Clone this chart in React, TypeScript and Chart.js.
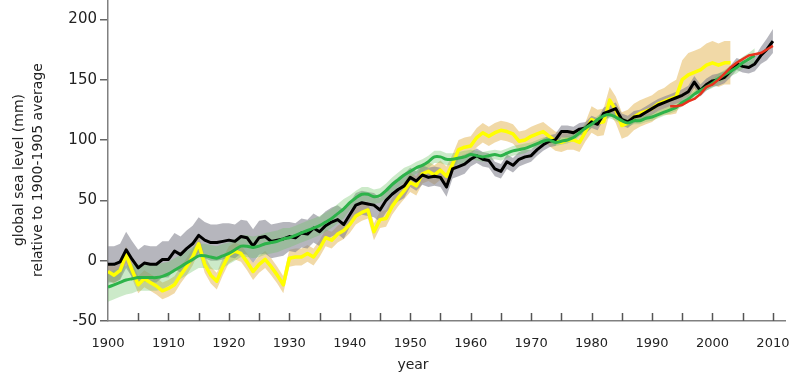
import React, { useEffect, useRef } from "react";
import { Chart, registerables } from "chart.js";

Chart.register(...registerables);

// ---- data (mm, relative to 1900-1905 average) ----
const BLACK_START = 1900;
const black = [
  -3, -3, -1, 9, 1, -6, -2, -3, -3, 1,
  1, 8, 5, 10, 14, 21, 17, 15, 15, 16,
  17, 16, 20, 19, 12, 19, 20, 16, 17, 18,
  20, 19, 23, 22, 27, 24, 29, 32, 34, 30,
  38, 46, 48, 47, 46, 42, 50, 55, 59, 62,
  69, 66, 71, 69, 70, 69, 61, 76, 78, 80,
  84, 87, 84, 83, 76, 74, 82, 79, 84, 86,
  87, 92, 96, 99, 100, 107, 107, 106, 109, 110,
  115, 113, 122, 124, 126, 117, 115, 119, 120, 123,
  126, 129, 131, 133, 135, 137, 140, 148, 141, 146,
  149, 150, 152, 157, 163, 161, 160, 163, 170, 175, 182,
];
const blackErr = [
  15, 15, 15, 15, 15, 15, 15, 15, 15, 15,
  15, 15, 15, 15, 15, 15, 15, 15, 15, 15,
  14, 14, 14, 14, 14, 14, 14, 14, 14, 14,
  12, 12, 12, 12, 12, 12, 12, 12, 12, 12,
  10, 10, 10, 10, 10, 10, 10, 10, 10, 10,
  8, 8, 8, 8, 8, 8, 8, 8, 8, 8,
  6, 6, 6, 6, 6, 6, 6, 6, 6, 6,
  5, 5, 5, 5, 5, 5, 5, 5, 5, 5,
  5, 5, 5, 5, 5, 5, 5, 5, 5, 5,
  5, 5, 5, 5, 5, 5, 5, 5, 5, 5,
  5, 5, 5, 5, 5, 5, 5, 6, 7, 9, 10,
];

const YELLOW_START = 1900;
const yellow = [
  -9, -12, -8, 5, -8, -20, -15, -18, -21, -25,
  -23, -20, -12, -5, 3, 14, -3, -12, -17, -5,
  5, 8, 6, -1, -9, -3, 1, -5, -12, -20,
  2, 3, 3, 6, 3, 10, 19, 17, 22, 25,
  30, 37, 40, 42, 24, 34, 35, 45, 52, 58,
  65, 62, 72, 74, 71, 75, 70, 80, 92, 94,
  95, 102, 106, 103, 106, 108, 107, 105, 99, 100,
  103, 105, 107, 103, 99, 98, 100, 100, 98, 107,
  117, 114, 115, 133, 125, 112, 114, 119, 122, 124,
  126, 130, 132, 134, 136, 150, 154, 156, 158, 162,
  164, 162, 164, 164,
];
const yellowErr = [
  7, 7, 7, 7, 7, 7, 7, 7, 7, 7,
  7, 7, 7, 7, 7, 7, 7, 7, 7, 7,
  7, 7, 7, 7, 7, 7, 7, 7, 7, 7,
  7, 7, 7, 7, 7, 7, 7, 7, 7, 7,
  7, 7, 7, 7, 7, 7, 7, 7, 7, 7,
  8, 8, 8, 8, 8, 8, 8, 8, 8, 8,
  8, 8, 8, 8, 8, 8, 8, 8, 8, 8,
  8, 8, 8, 8, 8, 8, 8, 8, 8, 8,
  11, 11, 11, 11, 11, 11, 11, 11, 11, 11,
  11, 11, 11, 13, 14, 16, 18, 18, 18, 18,
  18, 18, 18, 18,
];

const GREEN_START = 1900;
const green = [
  -22, -20, -18, -16, -15, -14, -14, -14, -14, -13,
  -11, -8, -5, -2, 1, 4, 4, 3, 2, 4,
  6, 9, 12, 12, 11, 12, 14, 15, 16, 18,
  19, 21, 23, 25, 27, 29, 32, 35, 39, 43,
  48, 52, 55, 55, 53, 54, 58, 63, 67, 71,
  74, 77, 79, 82, 86, 86, 84, 84, 85, 86,
  88, 87, 86, 87, 88, 87, 89, 91, 92, 93,
  95, 97, 99, 100, 98, 99, 100, 102, 106, 110,
  113, 117, 120, 121, 119, 116, 114, 116, 116, 118,
  119, 121, 123, 125, 127, 131, 134, 138, 141, 144,
  147, 151, 154, 157, 160, 164, 167, 170,
];
const greenErr = [
  12, 12, 12, 12, 12, 11, 11, 11, 11, 11,
  10, 10, 10, 10, 10, 10, 10, 10, 10, 10,
  9, 9, 9, 9, 9, 9, 9, 9, 9, 9,
  8, 8, 8, 8, 8, 8, 8, 8, 8, 8,
  6, 6, 6, 6, 6, 6, 6, 6, 6, 6,
  5, 5, 5, 5, 5, 5, 5, 5, 5, 5,
  4, 4, 4, 4, 4, 4, 4, 4, 4, 4,
  3, 3, 3, 3, 3, 3, 3, 3, 3, 3,
  3, 3, 3, 3, 3, 3, 3, 3, 3, 3,
  3, 3, 3, 3, 3, 3, 3, 3, 3, 3,
  4, 4, 4, 4, 5, 5, 5, 6,
];

const RED_START = 1993;
const red = [128, 128, 129, 132, 134, 138, 144, 146, 150, 155, 160, 164, 167, 170, 171, 172, 175, 178];

const yTitleLines = ["global sea level (mm)", "relative to 1900-1905 average"];
const xTitle = "year";

const FONT = '"DejaVu Sans", Verdana, sans-serif';

const toPoints = (start: number, vals: number[], err?: number[], sign = 0) =>
  vals.map((v, i) => ({ x: start + i, y: err ? v + sign * err[i] : v }));

const extrasPlugin = {
  id: "extras",
  afterDraw(chart: any) {
    const { ctx, scales } = chart;
    const xs = scales.x;
    const ys = scales.y;
    ctx.save();
    // inward ticks on x axis every 5 years
    ctx.strokeStyle = "#555";
    ctx.lineWidth = 1.5;
    const yBase = ys.getPixelForValue(ys.min);
    for (let v = 1905; v <= 2010; v += 5) {
      const px = Math.round(xs.getPixelForValue(v)) + 0.5;
      ctx.beginPath();
      ctx.moveTo(px, yBase);
      ctx.lineTo(px, yBase - 8);
      ctx.stroke();
    }
    // axis titles
    ctx.fillStyle = "#222";
    ctx.font = "14px " + FONT;
    ctx.textAlign = "center";
    ctx.textBaseline = "middle";
    ctx.fillText(xTitle, 413, 365);
    ctx.translate(19, 170);
    ctx.rotate(-Math.PI / 2);
    ctx.fillText(yTitleLines[0], 0, 0);
    ctx.fillText(yTitleLines[1], 0, 19);
    ctx.restore();
  },
};

export default function App() {
  const ref = useRef<HTMLCanvasElement | null>(null);
  useEffect(() => {
    if (!ref.current) return;
    const line = (label: string, data: any, color: string, width: number, tension = 0) => ({
      label,
      data,
      borderColor: color,
      borderWidth: width,
      pointRadius: 0,
      tension,
      fill: false,
      borderJoinStyle: "round" as const,
    });
    const bandUpper = (label: string, data: any, color: string) => ({
      label,
      data,
      borderWidth: 0,
      borderColor: "rgba(0,0,0,0)",
      backgroundColor: color,
      pointRadius: 0,
      fill: "+1",
    });
    const bandLower = (label: string, data: any) => ({
      label,
      data,
      borderWidth: 0,
      borderColor: "rgba(0,0,0,0)",
      pointRadius: 0,
      fill: false,
    });
    const chart = new Chart(ref.current, {
      type: "line",
      data: {
        datasets: [
          line("satellite", toPoints(RED_START, red), "#e8321e", 2.5),
          line("green", toPoints(GREEN_START, green), "#2db34a", 3, 0.3),
          line("black", toPoints(BLACK_START, black), "#000000", 3),
          line("yellow", toPoints(YELLOW_START, yellow), "#ffff00", 3.5),
          bandUpper("green hi", toPoints(GREEN_START, green, greenErr, 1), "rgba(110,195,100,0.35)"),
          bandLower("green lo", toPoints(GREEN_START, green, greenErr, -1)),
          bandUpper("black hi", toPoints(BLACK_START, black, blackErr, 1), "rgba(130,130,142,0.58)"),
          bandLower("black lo", toPoints(BLACK_START, black, blackErr, -1)),
          bandUpper("yellow hi", toPoints(YELLOW_START, yellow, yellowErr, 1), "rgba(228,180,80,0.5)"),
          bandLower("yellow lo", toPoints(YELLOW_START, yellow, yellowErr, -1)),
        ] as any,
      },
      options: {
        animation: false,
        responsive: true,
        maintainAspectRatio: false,
        layout: { padding: { left: 0, right: 15, top: 0, bottom: 0 } },
        plugins: { legend: { display: false }, tooltip: { enabled: false } },
        scales: {
          x: {
            type: "linear",
            min: 1900,
            max: 2012,
            afterFit: (s: any) => {
              s.height = 64;
              s.paddingLeft = 0;
              s.paddingRight = 0;
            },
            ticks: {
              stepSize: 10,
              includeBounds: false,
              autoSkip: false,
              maxRotation: 0,
              padding: 15,
              color: "#222",
              font: { family: FONT, size: 13 },
              callback: (v: any) => String(v),
            },
            grid: { display: false, drawTicks: false },
            border: { display: true, color: "#808080", width: 1.5 },
          },
          y: {
            type: "linear",
            min: -50,
            max: 216,
            afterFit: (s: any) => {
              s.width = 108;
              s.paddingTop = 0;
              s.paddingBottom = 0;
            },
            ticks: {
              stepSize: 50,
              includeBounds: false,
              padding: 3,
              color: "#222",
              font: { family: FONT, size: 15 },
            },
            grid: { drawOnChartArea: false, drawTicks: true, tickLength: 8, color: "#666", lineWidth: 1.5 },
            border: { display: true, color: "#808080", width: 1.5 },
          },
        },
      } as any,
      plugins: [extrasPlugin],
    });
    return () => chart.destroy();
  }, []);
  return (
    <div style={{ position: "fixed", left: 0, top: 0, width: 800, height: 385, background: "#fff" }}>
      <canvas ref={ref} />
    </div>
  );
}
